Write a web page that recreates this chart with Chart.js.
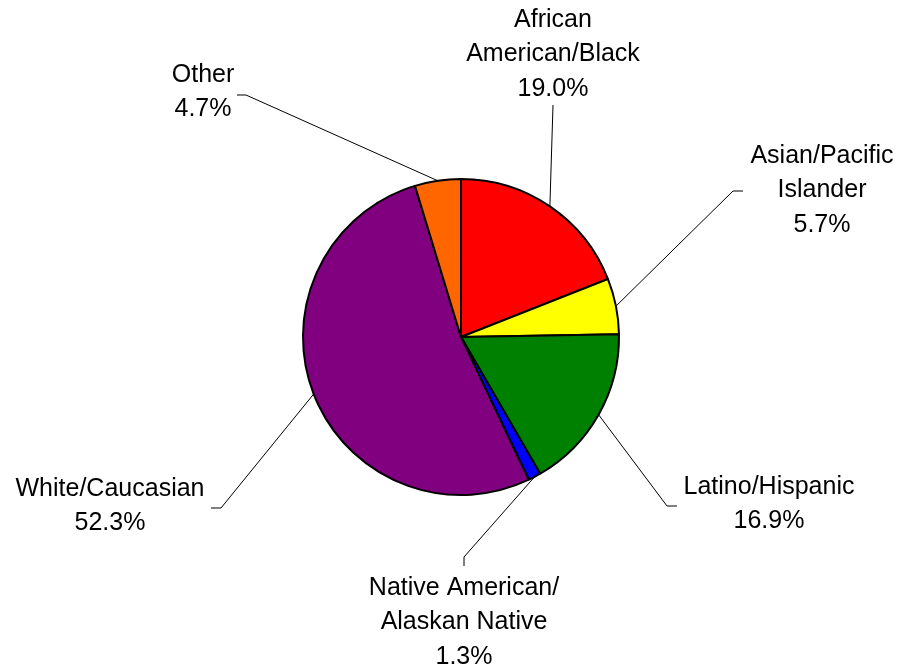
<!DOCTYPE html>
<html>
<head>
<meta charset="utf-8">
<title>Race / Ethnicity</title>
<script src="https://cdn.jsdelivr.net/npm/chart.js@4.4.0/dist/chart.umd.min.js"></script>
<style>
  html, body { margin: 0; padding: 0; background: #fff; }
  #wrap { width: 904px; height: 670px; }
</style>
</head>
<body>
<div id="wrap"><canvas id="pie" width="904" height="670"></canvas></div>
<script>
const groups = [
    "African\nAmerican/Black",
    "Asian/Pacific\nIslander",
    "Latino/Hispanic",
    "Native American/\nAlaskan Native",
    "White/Caucasian",
    "Other"
];
const shares = [19.0, 5.7, 16.9, 1.3, 52.3, 4.7];
const sliceColors = ["#FF0000", "#FFFF00", "#008000", "#0000FF", "#800080", "#FF6600"];

// where each callout sits: elbow of the leader, end of the leader, text centre
const callouts = [
    { elbow: [553, 105], end: [553, 105], text: [553, 20] },
    { elbow: [733, 191], end: [743, 191], text: [822, 156] },
    { elbow: [667, 506], end: [677, 506], text: [769, 487] },
    { elbow: [464, 557], end: [464, 566], text: [464, 588] },
    { elbow: [221, 508], end: [211, 508], text: [110, 489] },
    { elbow: [246, 95],  end: [237, 95],  text: [203, 75] }
];

const lineGap = 34.5;

const calloutPlugin = {
    id: "callouts",
    afterDraw(chart) {
        const ctx = chart.ctx;
        const arcs = chart.getDatasetMeta(0).data;
        ctx.save();
        arcs.forEach(function (arc, i) {
            const p = arc.getProps(["x", "y", "startAngle", "endAngle", "outerRadius"], true);
            const mid = (p.startAngle + p.endAngle) / 2;
            const ex = p.x + Math.cos(mid) * p.outerRadius;
            const ey = p.y + Math.sin(mid) * p.outerRadius;
            const c = callouts[i];

            ctx.strokeStyle = "#000";
            ctx.lineWidth = 1;
            ctx.beginPath();
            ctx.moveTo(ex, ey);
            ctx.lineTo(c.elbow[0], c.elbow[1]);
            ctx.lineTo(c.end[0], c.end[1]);
            ctx.stroke();

            const lines = groups[i].split("\n");
            lines.push(shares[i].toFixed(1) + "%");
            ctx.fillStyle = "#000";
            ctx.font = "25px 'Liberation Sans', Arial, sans-serif";
            ctx.textAlign = "center";
            ctx.textBaseline = "middle";
            lines.forEach(function (t, k) {
                ctx.fillText(t, c.text[0], c.text[1] + k * lineGap);
            });
        });
        ctx.restore();
    }
};

new Chart(document.getElementById("pie").getContext("2d"), {
    type: "pie",
    data: {
        labels: groups,
        datasets: [{
            data: shares,
            backgroundColor: sliceColors,
            borderColor: "#000",
            borderWidth: 2
        }]
    },
    options: {
        responsive: false,
        animation: false,
        radius: 158,
        layout: { padding: { left: 18, top: 4 } },
        plugins: {
            legend: { display: false },
            tooltip: { enabled: false }
        }
    },
    plugins: [calloutPlugin]
});
</script>
</body>
</html>
